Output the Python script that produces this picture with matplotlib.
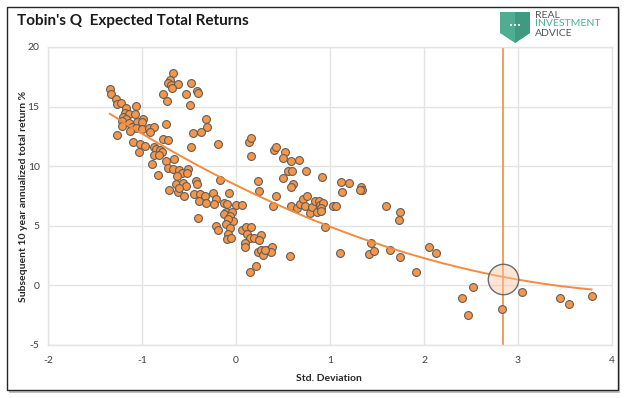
import numpy as np
import matplotlib
matplotlib.use("Agg")
import matplotlib.pyplot as plt
from matplotlib.patches import Polygon, Rectangle

plt.rcParams['font.family'] = ['Lato', 'DejaVu Sans']
plt.rcParams['axes.unicode_minus'] = False

# Std. deviation of Tobin's Q (x) vs subsequent 10-year annualized total return % (y)
std_dev = [
    -1.342, -1.325, -1.278, -1.261, -1.219, -1.169, -1.066, -1.183, -1.137, -1.077,
    -1.198, -1.166, -0.985, -1.208, -1.137, -1.049, -0.996, -1.215, -1.102, -1.066,
    -1.002, -1.126, -0.925, -0.868, -0.914, -1.261, -0.741, -0.776, -0.723, -1.091,
    -1.020, -0.970, -1.031, -0.871, -0.847, -0.811, -0.783, -0.871, -0.818, -0.889,
    -0.747, -0.659, -0.826, -0.723, -0.669, -0.606, -0.577, -0.507, -0.518, -0.624,
    -0.669, -0.705, -0.719, -0.688, -0.616, -0.677, -0.773, -0.730, -0.481, -0.528,
    -0.414, -0.407, -0.486, -0.322, -0.305, -0.375, -0.454, -0.478, -0.188, -0.170,
    -0.074, -0.244, -0.641, -0.560, -0.528, -0.428, -0.414, -0.712, -0.620, -0.606,
    -0.549, -0.443, -0.383, -0.329, -0.390, -0.322, -0.407, -0.209, -0.234, -0.128,
    -0.099, -0.003, 0.061, -0.106, -0.128, -0.043, -0.064, -0.029, -0.085, -0.216,
    -0.188, -0.109, -0.067, -0.085, -0.096, -0.050, 0.061, 0.103, 0.156, 0.112,
    0.149, 0.194, 0.271, 0.244, 0.099, 0.099, 0.237, 0.262, 0.292, 0.343,
    0.386, 0.377, 0.313, 0.579, 0.213, 0.149,
    0.138, 0.159, 0.163, 0.404, 0.430, 0.518, 0.499, 0.590, 0.672, 0.555,
    0.597, 0.746, 0.239, 0.244, 0.502, 0.609, 0.581, 0.911, 1.119, 1.206,
    1.325, 1.344, 1.316, 1.130, 0.422, 0.393, 0.581, 0.648, 0.677, 0.709,
    0.760, 0.739, 0.786, 0.811, 0.836, 0.879, 0.858, 0.898, 0.925, 0.903,
    0.900, 1.033, 1.061, 0.946, 1.102, 1.435, 1.413, 1.470, 1.634, 1.740,
    1.915, 1.601, 1.740, 1.730, 2.051, 2.125, 2.519, 2.405, 2.473, 2.830,
    3.043, 3.443, 3.539, 3.783,
]
total_return = [
    16.49, 16.07, 15.63, 15.23, 15.34, 14.92, 15.07, 14.45, 14.34, 14.37,
    14.12, 13.95, 14.00, 13.75, 13.62, 13.67, 13.70, 13.39, 13.33, 13.20,
    13.11, 12.97, 13.20, 13.28, 12.91, 12.63, 13.53, 12.30, 12.16, 12.02,
    11.85, 11.71, 11.23, 11.60, 11.43, 11.32, 11.23, 10.90, 10.96, 10.20,
    10.45, 10.60, 9.28, 9.81, 9.76, 9.70, 9.47, 9.76, 9.42, 9.14,
    17.86, 17.25, 16.97, 16.83, 16.91, 16.55, 16.07, 15.51, 17.02, 16.07,
    16.35, 16.13, 15.15, 13.95, 13.33, 12.83, 12.78, 11.65, 11.88, 8.86,
    7.79, 7.74, 8.52, 8.58, 8.38, 8.72, 8.52, 7.99, 7.85, 8.16,
    7.52, 7.66, 7.68, 7.46, 7.12, 6.95, 5.65, 7.24, 6.82, 6.90,
    6.82, 6.76, 6.76, 6.12, 5.98, 6.17, 5.80, 5.44, 5.59, 5.02,
    4.66, 5.13, 4.81, 4.31, 3.91, 3.97, 4.66, 4.87, 4.89, 4.33,
    3.97, 3.97, 4.20, 3.78, 3.59, 3.21, 2.82, 3.00, 2.57, 2.99,
    3.18, 2.82, 2.94, 2.50, 1.59, 1.12,
    12.02, 12.36, 10.83, 11.32, 11.60, 11.21, 10.68, 10.44, 10.48, 9.60,
    9.60, 9.60, 8.77, 7.96, 8.98, 8.50, 8.27, 9.09, 8.69, 8.55,
    8.23, 8.00, 8.00, 7.81, 7.50, 6.62, 6.69, 6.48, 6.83, 7.24,
    7.46, 6.62, 6.07, 6.55, 7.04, 7.10, 6.12, 6.76, 6.90, 6.47,
    6.22, 6.62, 6.62, 4.90, 2.69, 3.59, 2.63, 2.88, 2.96, 2.36,
    1.12, 6.68, 6.15, 5.49, 3.25, 2.68, -0.14, -1.04, -2.49, -1.99,
    -0.54, -1.04, -1.60, -0.85,
]
current_std = 2.84
current_point = (2.84, 0.53)

x_ticks = [-2, -1, 0, 1, 2, 3, 4]
y_ticks = [-5, 0, 5, 10, 15, 20]

ORANGE = '#F79646'
LINE_ORANGE = '#F58B3F'

fig = plt.figure(figsize=(6.29, 3.98), dpi=100)

# frame with shadow
fig.patches.append(Rectangle((9 / 629, 1 - 393 / 398), 611 / 629, 384 / 398,
                             transform=fig.transFigure, facecolor='#BFBFBF',
                             edgecolor='none', zorder=-3))
fig.patches.append(Rectangle((7 / 629, 1 - 390 / 398), 611 / 629, 383 / 398,
                             transform=fig.transFigure, facecolor='white',
                             edgecolor='#262626', linewidth=1.0, zorder=-2))

ax = fig.add_axes([48 / 629, 1 - 345 / 398, (612 - 48) / 629, (345 - 47) / 398])
ax.set_facecolor('none')
ax.set_zorder(1)

x = np.array(std_dev)
y = np.array(total_return)

ax.scatter(x, y, s=32, facecolor=ORANGE, edgecolor='#5F5F5F', linewidth=0.8, zorder=3)

coef = np.polyfit(x, y, 2)
xs = np.linspace(x.min(), x.max(), 200)
ax.plot(xs, np.polyval(coef, xs), color=LINE_ORANGE, linewidth=1.4, zorder=4)

ax.axvline(current_std, color=LINE_ORANGE, linewidth=1.2, zorder=2)
ax.scatter([current_point[0]], [current_point[1]], s=480,
           facecolor=(0.98, 0.78, 0.64, 0.45),
           edgecolor='#6B6B6B', linewidth=1.0, zorder=5)

ax.set_xlim(-2, 4)
ax.set_ylim(-5, 20)
ax.set_xticks(x_ticks)
ax.set_yticks(y_ticks)
ax.set_xticklabels([str(t) for t in x_ticks])
ax.set_yticklabels([str(t) for t in y_ticks])
ax.grid(True, color='#E3E3E3', linewidth=1.0, zorder=0)
ax.set_axisbelow(True)
for s in ax.spines.values():
    s.set_color('#E3E3E3')
    s.set_linewidth(1.0)
ax.tick_params(axis='y', length=0, labelsize=7.5, labelcolor='#404040', pad=6)
ax.tick_params(axis='x', length=0, labelsize=7.5, labelcolor='#404040', pad=8)

ax.set_xlabel('Std. Deviation', fontsize=7.5, fontweight='bold', color='#262626')
ax.set_ylabel('Subsequent 10 year annualized total return %', fontsize=7.5,
              fontweight='bold', color='#262626')
ax.xaxis.set_label_coords((329 - 48) / 564, (345 - 374) / 298)
ax.yaxis.set_label_coords((28 - 48) / 564, (345 - 196) / 298)

fig.text(17 / 629, 1 - 21 / 398, "Tobin's Q  Expected Total Returns", fontsize=11,
         fontweight='bold', color='#1A1A1A', va='center', ha='left')

# logo
shield = [(500, 12), (530, 12), (530, 33), (515, 43), (500, 33)]
fig.patches.append(Polygon([(px / 629, 1 - py / 398) for px, py in shield],
                           closed=True, transform=fig.transFigure,
                           facecolor='#4FAE92', edgecolor='none', zorder=2))
fig.patches.append(Polygon([(px / 629, 1 - py / 398) for px, py in [(515, 12), (530, 12), (530, 33), (515, 43)]],
                           closed=True, transform=fig.transFigure,
                           facecolor='#3E9A80', edgecolor='none', zorder=2))
fig.text(515 / 629, 1 - 26 / 398, '•••', fontsize=5, color='white', ha='center',
         va='center', family='DejaVu Sans', zorder=3)
fig.text(535 / 629, 1 - 15 / 398, 'REAL', fontsize=7.5, color='#555555', va='center', ha='left')
fig.text(535 / 629, 1 - 24 / 398, 'INVESTMENT', fontsize=7.5, color='#4FAE92', va='center', ha='left')
fig.text(535 / 629, 1 - 33 / 398, 'ADVICE', fontsize=7.5, color='#555555', va='center', ha='left')

fig.savefig('out.png', dpi=100)
